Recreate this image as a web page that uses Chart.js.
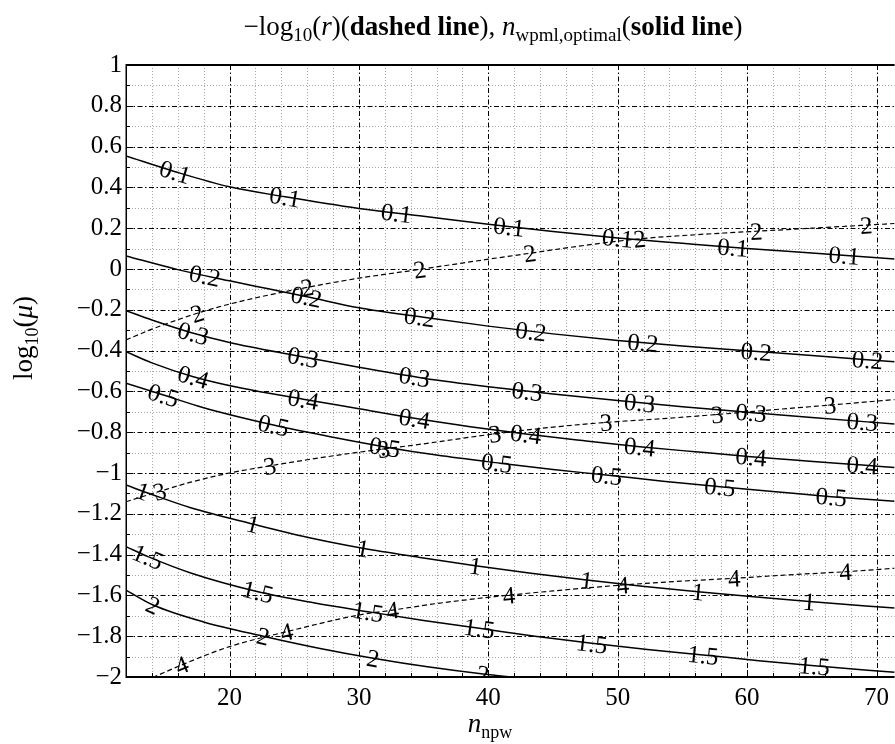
<!DOCTYPE html>
<html><head><meta charset="utf-8">
<script src="https://cdn.jsdelivr.net/npm/chart.js@4.4.0/dist/chart.umd.min.js"></script>
<style>html,body{margin:0;padding:0;background:#fff;overflow:hidden}canvas{display:block}</style>
</head><body>
<canvas id="c" width="895" height="744"></canvas>
<script>
// ---- axes ----
const X_MIN = 12, X_MAX = 71.4, Y_MIN = -2, Y_MAX = 1;
const X_TICKS = [20, 30, 40, 50, 60, 70];
const Y_TICKS = [-2, -1.8, -1.6, -1.4, -1.2, -1, -0.8, -0.6, -0.4, -0.2, 0, 0.2, 0.4, 0.6, 0.8, 1];

// ---- solid lines: n_wpml,optimal contours ----
const s01_x = [12, 15.8, 20, 24.3, 30, 35, 40, 45, 50, 55, 60, 65, 71.4];
const s01_y = [0.554, 0.477, 0.403, 0.354, 0.297, 0.258, 0.219, 0.184, 0.152, 0.126, 0.101, 0.079, 0.049];
const s01_lab = [15.8, 24.3, 32.9, 41.6, 50.0, 58.9, 67.5];

const s02_x = [12, 16, 20, 23, 26, 30, 35, 40, 45, 50, 55, 60, 65, 71.4];
const s02_y = [0.064, -0.003, -0.058, -0.097, -0.136, -0.19, -0.237, -0.28, -0.318, -0.35, -0.377, -0.401, -0.424, -0.455];
const s02_lab = [18.1, 25.95, 34.7, 43.3, 51.95, 60.7, 69.3];

const s03_x = [12, 14, 17, 20, 25, 30, 35, 40, 45, 50, 55, 60, 65, 71.4];
const s03_y = [-0.204, -0.25, -0.311, -0.36, -0.423, -0.482, -0.535, -0.577, -0.613, -0.645, -0.675, -0.702, -0.728, -0.76];
const s03_lab = [17.2, 25.7, 34.3, 43.0, 51.7, 60.3, 68.9];

const s04_x = [12, 14, 17.2, 21, 25.7, 30, 34.3, 38.6, 42.9, 47.3, 51.7, 56, 60.3, 64.6, 68.9, 71.4];
const s04_y = [-0.405, -0.46, -0.528, -0.585, -0.638, -0.685, -0.732, -0.773, -0.809, -0.841, -0.871, -0.896, -0.920, -0.941, -0.961, -0.973];
const s04_lab = [17.2, 25.7, 34.3, 42.9, 51.7, 60.3, 68.9];

const s05_x = [12, 14.9, 18, 23.4, 28, 32, 36, 40.9, 45, 49.1, 53.5, 57.9, 62.2, 66.5, 71.4];
const s05_y = [-0.56, -0.618, -0.68, -0.765, -0.825, -0.872, -0.912, -0.952, -0.983, -1.01, -1.04, -1.067, -1.092, -1.116, -1.139];
const s05_lab = [14.9, 23.4, 32.0, 40.65, 49.15, 57.9, 66.5];

const s1_x = [12, 14, 17, 21.8, 26, 30.3, 34.6, 39, 43.3, 47.6, 51.9, 56.2, 60.5, 64.8, 71.4];
const s1_y = [-1.059, -1.105, -1.17, -1.25, -1.315, -1.369, -1.413, -1.455, -1.492, -1.525, -1.555, -1.582, -1.607, -1.63, -1.662];
const s1_lab = [13.3, 21.8, 30.3, 39.0, 47.6, 56.2, 64.8];

const s15_x = [12, 13.7, 17, 22.2, 26.5, 30.7, 35, 39.3, 43.6, 48, 52.3, 56.6, 60.9, 65.2, 71.4];
const s15_y = [-1.361, -1.41, -1.49, -1.582, -1.636, -1.68, -1.723, -1.761, -1.8, -1.835, -1.865, -1.892, -1.92, -1.945, -1.977];
const s15_lab = [13.7, 22.2, 30.7, 39.3, 48.0, 56.6, 65.2];

const s2_x = [12, 14.1, 18, 22.6, 27, 31.1, 35.3, 39.6, 45, 50];
const s2_y = [-1.574, -1.647, -1.73, -1.8, -1.86, -1.908, -1.95, -1.985, -2.02, -2.05];
const s2_lab = [14.1, 22.6, 31.1, 39.6];

// ---- dashed lines: -log10(r) contours ----
const d2_x = [12, 14, 17.5, 20, 23, 26, 30, 34.7, 40, 43.2, 47, 51.7, 56, 60.7, 65, 69.2, 71.4];
const d2_y = [-0.348, -0.295, -0.217, -0.172, -0.128, -0.09, -0.045, -0.002, 0.048, 0.077, 0.112, 0.148, 0.168, 0.185, 0.2, 0.215, 0.223];
const d2_lab = [17.5, 26.0, 34.7, 43.2, 51.7, 60.7, 69.2];

const d3_x = [12, 14.6, 17, 20, 23.1, 26, 30, 35, 40.5, 45, 49.1, 53.4, 57.7, 62, 66.4, 71.4];
const d3_y = [-1.141, -1.09, -1.045, -1.0, -0.965, -0.935, -0.898, -0.857, -0.808, -0.775, -0.752, -0.734, -0.713, -0.69, -0.667, -0.64];
const d3_lab = [14.6, 23.1, 31.9, 40.5, 49.1, 57.7, 66.4];

const d4_x = [13.5, 14.24, 16.3, 20, 24.4, 30, 32.6, 36, 40.5, 45, 50.4, 55, 59, 63, 67.6, 71.4];
const d4_y = [-2.02, -1.998, -1.941, -1.851, -1.778, -1.696, -1.672, -1.64, -1.606, -1.578, -1.549, -1.53, -1.516, -1.5, -1.484, -1.467];
const d4_lab = [16.3, 24.4, 32.6, 41.6, 50.4, 59.0, 67.6];

const SERIES = [
  {name: '0.1', xs: s01_x, ys: s01_y, lab: s01_lab, dashed: false},
  {name: '0.2', xs: s02_x, ys: s02_y, lab: s02_lab, dashed: false},
  {name: '0.3', xs: s03_x, ys: s03_y, lab: s03_lab, dashed: false},
  {name: '0.4', xs: s04_x, ys: s04_y, lab: s04_lab, dashed: false},
  {name: '0.5', xs: s05_x, ys: s05_y, lab: s05_lab, dashed: false},
  {name: '1', xs: s1_x, ys: s1_y, lab: s1_lab, dashed: false},
  {name: '1.5', xs: s15_x, ys: s15_y, lab: s15_lab, dashed: false},
  {name: '2', xs: s2_x, ys: s2_y, lab: s2_lab, dashed: false},
  {name: '2', xs: d2_x, ys: d2_y, lab: d2_lab, dashed: true},
  {name: '3', xs: d3_x, ys: d3_y, lab: d3_lab, dashed: true},
  {name: '4', xs: d4_x, ys: d4_y, lab: d4_lab, dashed: true}
];

const FONT = '"Liberation Serif", "Times New Roman", serif';

function interp(xs, ys, v) {
  if (v <= xs[0]) return ys[0];
  for (let i = 1; i < xs.length; i++) {
    if (v <= xs[i]) {
      const t = (v - xs[i - 1]) / (xs[i] - xs[i - 1]);
      return ys[i - 1] + t * (ys[i] - ys[i - 1]);
    }
  }
  return ys[ys.length - 1];
}

function fmtY(v) {
  const r = Math.round(v * 10) / 10;
  if (Math.abs(r) < 1e-9) return '0';
  return r < 0 ? '\u2212' + String(-r) : String(r);
}

function drawRuns(ctx, runs, cx, baseY) {
  let w = 0;
  runs.forEach(r => { ctx.font = r[1]; r.w = ctx.measureText(r[0]).width; w += r.w; });
  let xx = cx - w / 2;
  runs.forEach(r => { ctx.font = r[1]; ctx.fillText(r[0], xx, baseY + (r[2] || 0)); xx += r.w; });
}

const gridPlugin = {
  id: 'gridPlugin',
  beforeDatasetsDraw(chart) {
    const {ctx, chartArea: a, scales: {x, y}} = chart;
    const ln = (x1, y1, x2, y2) => { ctx.beginPath(); ctx.moveTo(x1, y1); ctx.lineTo(x2, y2); ctx.stroke(); };
    ctx.save();
    ctx.lineWidth = 1;
    ctx.strokeStyle = '#a8a8a8';
    ctx.setLineDash([1, 2]);
    for (let v = 14; v < X_MAX; v += 2) {
      if (v % 10 === 0) continue;
      const p = Math.round(x.getPixelForValue(v)) + 0.5;
      ln(p, a.top, p, a.bottom);
    }
    for (let i = -19; i < 10; i += 2) {
      const p = Math.round(y.getPixelForValue(i / 10)) + 0.5;
      ln(a.left, p, a.right, p);
    }
    ctx.strokeStyle = '#000';
    ctx.setLineDash([5, 2.5, 1.5, 2.5]);
    X_TICKS.forEach(v => {
      const p = Math.round(x.getPixelForValue(v)) + 0.5;
      ln(p, a.top, p, a.bottom);
    });
    Y_TICKS.forEach(v => {
      if (v <= Y_MIN || v >= Y_MAX) return;
      const p = Math.round(y.getPixelForValue(v)) + 0.5;
      ln(a.left, p, a.right, p);
    });
    ctx.restore();
  },
  afterDatasetsDraw(chart) {
    const {ctx, chartArea: a, scales: {x, y}} = chart;
    // contour labels
    ctx.save();
    ctx.beginPath();
    ctx.rect(a.left, a.top, a.right - a.left, a.bottom - a.top);
    ctx.clip();
    ctx.fillStyle = '#000';
    ctx.font = '25px ' + FONT;
    ctx.textAlign = 'center';
    ctx.textBaseline = 'alphabetic';
    SERIES.forEach(s => {
      s.lab.forEach(lx => {
        const ly = interp(s.xs, s.ys, lx);
        const px = x.getPixelForValue(lx), py = y.getPixelForValue(ly);
        const ax = x.getPixelForValue(lx - 0.8), ay = y.getPixelForValue(interp(s.xs, s.ys, lx - 0.8));
        const bx = x.getPixelForValue(lx + 0.8), by = y.getPixelForValue(interp(s.xs, s.ys, lx + 0.8));
        const ang = Math.atan2(by - ay, bx - ax);
        ctx.save();
        ctx.translate(px, py);
        ctx.rotate(ang);
        ctx.fillText(s.name, 0, 8.5);
        ctx.restore();
      });
    });
    ctx.restore();

    // axis frame and inward ticks
    const ln = (x1, y1, x2, y2) => { ctx.beginPath(); ctx.moveTo(x1, y1); ctx.lineTo(x2, y2); ctx.stroke(); };
    ctx.save();
    ctx.strokeStyle = '#000';
    ctx.setLineDash([]);
    ctx.lineWidth = 1;
    for (let i = -20; i <= 10; i++) {
      const p = Math.round(y.getPixelForValue(i / 10)) + 0.5;
      const L = (i % 2 === 0) ? 7 : 4;
      ln(a.left, p, a.left + L, p);
    }
    for (let v = 14; v < X_MAX; v += 2) {
      const p = Math.round(x.getPixelForValue(v)) + 0.5;
      const L = (v % 10 === 0) ? 7 : 4;
      ln(p, a.bottom, p, a.bottom - L);
    }
    ctx.lineWidth = 2;
    ln(a.left, Math.round(a.top), a.right, Math.round(a.top));
    ln(a.left, Math.round(a.bottom), a.right, Math.round(a.bottom));
    ctx.lineWidth = 1.5;
    ln(Math.round(a.left) + 0.25, a.top - 1, Math.round(a.left) + 0.25, a.bottom + 1);
    ctx.restore();
  },
  afterDraw(chart) {
    const ctx = chart.ctx;
    ctx.save();
    ctx.fillStyle = '#000';
    ctx.textAlign = 'left';
    ctx.textBaseline = 'alphabetic';
    const R = '27px ' + FONT, I = 'italic 27px ' + FONT, B = 'bold 27px ' + FONT, S = '19px ' + FONT;
    drawRuns(ctx, [
      ['\u2212log', R], ['10', S, 6], ['(', R], ['r', I], [')', R],
      ['(', R], ['dashed line', B], [')', R], [', ', R],
      ['n', I], ['wpml,optimal', S, 6],
      ['(', R], ['solid line', B], [')', R]
    ], 493, 35);
    // x label
    drawRuns(ctx, [['n', 'italic 27px ' + FONT], ['npw', '18px ' + FONT, 6]], 490, 732);
    // y label
    ctx.save();
    ctx.translate(32, 338);
    ctx.rotate(-Math.PI / 2);
    drawRuns(ctx, [['log', '27px ' + FONT], ['10', '18px ' + FONT, 6], ['(', '27px ' + FONT], ['\u03bc', 'italic 27px ' + FONT], [')', '27px ' + FONT]], 0, 0);
    ctx.restore();
    ctx.restore();
  }
};

const datasets = SERIES.map(s => ({
  data: s.xs.map((v, i) => ({x: v, y: s.ys[i]})),
  showLine: true,
  borderColor: '#000',
  borderWidth: s.dashed ? 1.2 : 1.5,
  borderDash: s.dashed ? [5, 3] : [],
  pointRadius: 0,
  pointHoverRadius: 0,
  cubicInterpolationMode: 'monotone',
  fill: false
}));

new Chart(document.getElementById('c'), {
  type: 'scatter',
  data: {datasets},
  options: {
    responsive: false,
    animation: false,
    devicePixelRatio: 1,
    layout: {padding: {top: 65, left: 0, right: 0, bottom: 0}},
    plugins: {legend: {display: false}, tooltip: {enabled: false}, title: {display: false}},
    scales: {
      x: {
        type: 'linear', min: X_MIN, max: X_MAX,
        afterBuildTicks: s => { s.ticks = X_TICKS.map(v => ({value: v})); },
        afterFit: s => { s.height = 67; },
        grid: {display: false, drawTicks: false},
        border: {display: false},
        ticks: {padding: 6, color: '#000', font: {family: FONT, size: 25}, maxRotation: 0, autoSkip: false, callback: v => String(v)}
      },
      y: {
        type: 'linear', min: Y_MIN, max: Y_MAX,
        afterBuildTicks: s => { s.ticks = Y_TICKS.map(v => ({value: v})); },
        afterFit: s => { s.width = 126; },
        grid: {display: false, drawTicks: false},
        border: {display: false},
        ticks: {padding: 4, color: '#000', font: {family: FONT, size: 25}, autoSkip: false, callback: v => fmtY(v)}
      }
    }
  },
  plugins: [gridPlugin]
});
</script>
</body></html>
